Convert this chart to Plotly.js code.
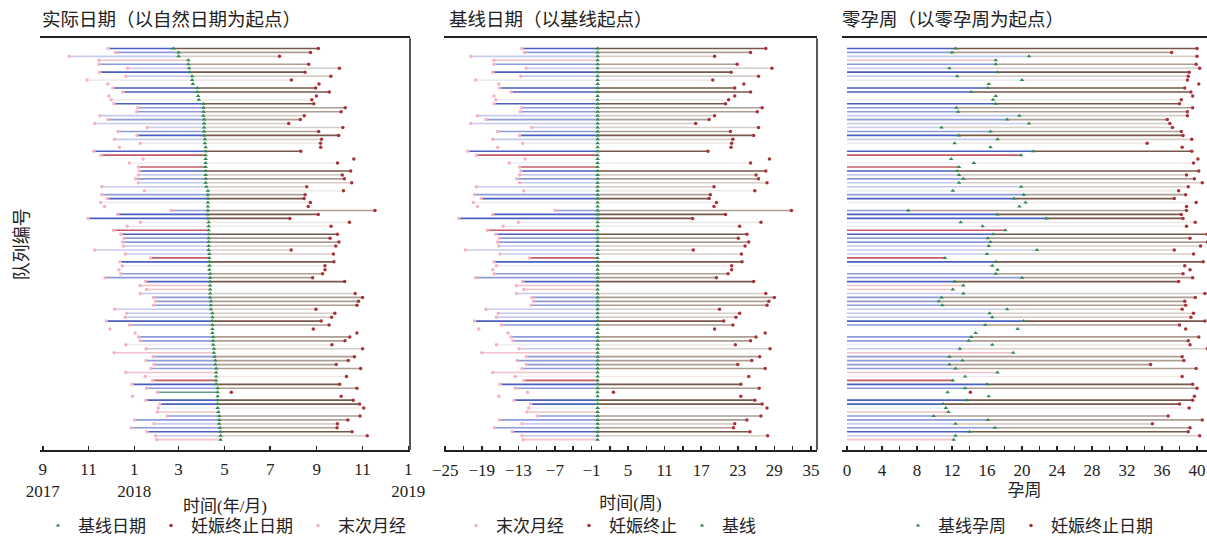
<!DOCTYPE html>
<html>
<head>
<meta charset="utf-8">
<script src="https://cdn.plot.ly/plotly-3.0.1.min.js"></script>
<style>
html,body{margin:0;padding:0;background:#fff;}
#chart{width:1207px;height:544px;}
</style>
</head>
<body>
<div id="chart"></div>
<script>
// ---------------- DATA ----------------
// Baseline date per cohort member: days after 2018-01-01 (rows sorted by baseline date)
const baselineDays = [
  52, 59, 59, 72, 72, 73, 74, 77, 77, 78,
  84, 84, 85, 86, 92, 92, 92, 92, 93, 93,
  93, 93, 93, 94, 94, 95, 95, 95, 95, 95,
  95, 95, 95, 95, 95, 96, 98, 98, 98, 98,
  98, 98, 98, 98, 99, 99, 99, 99, 99, 99,
  99, 99, 100, 100, 100, 100, 100, 101, 101, 101,
  101, 101, 101, 101, 102, 102, 102, 104, 104, 104,
  104, 104, 104, 105, 105, 105, 106, 106, 107, 108,
  108, 109, 109, 109, 109, 109, 111, 111, 111, 111,
  111, 111, 112, 113, 113, 113, 114, 115, 115, 115
];
// Last menstrual period relative to baseline (weeks, negative)
const lmpWeeks = [
  -12.4, -12.0, -20.8, -17.0, -17.0, -11.7, -17.2, -12.6, -20.0, -16.2,
  -16.1, -14.2, -17.0, -16.7, -17.0, -12.5, -12.7, -19.7, -18.3, -20.8,
  -10.8, -16.4, -12.8, -17.2, -12.3, -16.4, -21.3, -19.9, -11.9, -14.5,
  -12.8, -12.6, -12.8, -13.3, -12.8, -19.9, -12.1, -20.2, -19.1, -20.4,
  -19.7, -7.0, -17.2, -22.8, -13.0, -15.5, -18.1, -16.7, -16.1, -16.4,
  -16.2, -21.7, -16.0, -11.2, -17.0, -16.6, -17.2, -17.0, -20.0, -12.3,
  -13.3, -12.1, -13.3, -10.8, -10.5, -10.9, -18.3, -16.3, -16.6, -20.2,
  -15.8, -19.5, -14.7, -14.2, -13.9, -16.6, -12.9, -19.0, -11.7, -13.2,
  -11.7, -12.4, -17.2, -13.5, -12.1, -16.0, -13.5, -11.5, -16.2, -13.7,
  -11.0, -11.3, -11.6, -9.9, -16.1, -12.4, -16.9, -14.0, -12.4, -12.2
];
// End of pregnancy relative to baseline (weeks); null = no end recorded
const endWeeks = [
  27.6, 25.1, 19.2, null, 22.9, 28.6, 21.9, 26.4, 18.9, 24.0,
  22.5, 25.1, 22.5, 21.5, 21.0, 27.0, 26.2, 19.2, 18.3, 16.1,
  26.4, 21.8, 25.6, 22.2, 22.0, 21.9, 18.1, null, 28.2, 25.1,
  null, 27.6, 26.0, 26.4, 27.8, 19.1, 25.8, 18.5, 18.3, 19.5,
  19.1, 31.8, 21.0, 15.6, 26.8, 23.3, null, 24.5, 23.1, 24.8,
  24.2, 15.7, 23.6, null, 23.7, 22.0, 22.0, 21.4, 19.5, 25.6,
  null, null, 27.6, 29.0, 28.1, 27.8, 20.0, 23.3, 22.7, 20.7,
  22.2, 19.2, 27.5, 26.0, 25.1, 22.6, 28.3, null, 26.6, 25.3,
  23.0, 27.5, null, 24.8, null, 23.5, 26.5, 2.6, 23.5, 25.8,
  27.0, 27.8, null, 26.8, 24.5, 22.5, 22.3, 25.0, 27.9, null
];
// Line shade group per row
const shadeGroup = [
  'A','B','C','P','B','C','A','C','D','N',
  'A','A','N','D','A','B','B','C','B','C',
  'C','B','A','C','D','N','A','R','N','D',
  'R','A','C','B','C','C','D','B','A','D',
  'N','B','A','A','D','D','R','A','B','B',
  'C','C','C','R','A','D','N','B','B','A',
  'P','P','C','B','B','B','C','C','C','A',
  'B','N','N','B','B','D','C','P','B','B',
  'B','B','P','D','R','A','B','G','N','A',
  'A','D','P','B','B','C','B','A','C','P'
];

const xTickVals1 = ['2017-09-01','2017-11-01','2018-01-01','2018-03-01','2018-05-01','2018-07-01','2018-09-01','2018-11-01','2019-01-01'];
const xTickText1 = ['9<br>2017','11','1<br>2018','3','5','7','9','11','1<br>2019'];

// ---------------- STYLES ----------------
const preColor  = {A:'#4a5fbf', B:'#8e9bd9', C:'#c6cbee', D:'#ececf5', R:'#c45c68', P:'#f2c2cb', G:'#5f9e8c'};
const postColor = {A:'#77574a', B:'#ad9d92', C:'#d8cec8', D:'#eeeae8'};
const cLmp = '#f5b3c0', cBase = '#2f8a4a', cEnd = '#a8323a';
const FONT = 'Liberation Serif, "Noto Sans CJK SC", serif';

const DAY = 86400000;
const origin = Date.UTC(2018, 0, 1);
function toDate(ms){ return new Date(ms).toISOString().slice(0,19).replace('T',' '); }

const n = baselineDays.length;
const rows = [];
for (let i = 0; i < n; i++) rows.push(i + 1);

// positions per panel
function coords(panel, i){
  const l = lmpWeeks[i], e = endWeeks[i];
  if (panel === 1){
    const b = origin + baselineDays[i]*DAY;
    return {lmp: toDate(b + l*7*DAY), base: toDate(b), end: e===null?null:toDate(b + e*7*DAY)};
  } else if (panel === 2){
    return {lmp: l, base: 0, end: e};
  } else {
    return {lmp: 0, base: -l, end: e===null?null:(e - l)};
  }
}

const traces = [];
function axisNames(p){ return {xaxis: p===1?'x':'x'+p, yaxis: p===1?'y':'y'+p}; }

for (const p of [1,2,3]){
  const ax = axisNames(p);
  // line segments grouped by shade
  for (const g of ['D','C','B','A','P','R','G']){
    const xs = [], ys = [];
    for (let i = 0; i < n; i++){
      if (shadeGroup[i] !== g) continue;
      if (g === 'G' && p !== 1) continue;
      const c = coords(p, i);
      xs.push(c.lmp, c.base, null); ys.push(rows[i], rows[i], null);
    }
    if (xs.length) traces.push({type:'scatter', mode:'lines', x:xs, y:ys, ...ax,
      line:{color:preColor[g], width:1.6}, hoverinfo:'skip', showlegend:false});
  }
  for (const g of ['D','C','B','A']){
    const xs = [], ys = [];
    for (let i = 0; i < n; i++){
      if (shadeGroup[i] !== g || endWeeks[i] === null) continue;
      const c = coords(p, i);
      xs.push(c.base, c.end, null); ys.push(rows[i], rows[i], null);
    }
    if (xs.length) traces.push({type:'scatter', mode:'lines', x:xs, y:ys, ...ax,
      line:{color:postColor[g], width:1.6}, hoverinfo:'skip', showlegend:false});
  }
  // markers
  const lmpT = {type:'scatter', mode:'markers', ...ax, x:[], y:[],
    marker:{color:cLmp, size:3.5, symbol:'circle'}};
  const baseT = {type:'scatter', mode:'markers', ...ax, x:[], y:[],
    marker:{color:cBase, size:4, symbol:'triangle-up'}};
  const endT = {type:'scatter', mode:'markers', ...ax, x:[], y:[],
    marker:{color:cEnd, size:3.5, symbol:'circle'}};
  for (let i = 0; i < n; i++){
    const c = coords(p, i);
    lmpT.x.push(c.lmp); lmpT.y.push(rows[i]);
    baseT.x.push(c.base); baseT.y.push(rows[i]);
    if (c.end !== null){ endT.x.push(c.end); endT.y.push(rows[i]); }
  }
  const lg = p===1 ? 'legend' : 'legend'+p;
  lmpT.legend = baseT.legend = endT.legend = lg;
  if (p === 1){
    baseT.name = '基线日期'; endT.name = '妊娠终止日期'; lmpT.name = '末次月经';
    traces.push(baseT, endT, lmpT);
  } else if (p === 2){
    lmpT.name = '末次月经'; endT.name = '妊娠终止'; baseT.name = '基线';
    traces.push(lmpT, endT, baseT);
  } else {
    baseT.name = '基线孕周'; endT.name = '妊娠终止日期';
    traces.push(baseT, endT);
  }
}

// ---------------- LAYOUT ----------------
const W = 1207, H = 544;
const px = v => v / W;
const yDom = [(H-457.5)/H, (H-39)/H];
const yRange = [102.6, -1.56];

const xCommon = {
  showline:true, linecolor:'#222', linewidth:2, mirror:true,
  ticks:'inside', ticklen:4, tickwidth:1.5, tickcolor:'#222',
  showgrid:false, zeroline:false, ticklabelstandoff:4,
  tickfont:{size:17, color:'#222', family:FONT},
  title:{font:{size:17, color:'#222', family:FONT}}
};
const yCommon = {range:yRange, showline:false, showticklabels:false, ticks:'',
  showgrid:false, zeroline:false, domain:yDom};

const legendCommon = {orientation:'h', yanchor:'middle', y:(H-535)/H, xanchor:'left',
  font:{size:17, color:'#222', family:FONT}, itemwidth:30, bgcolor:'rgba(0,0,0,0)', tracegroupgap:0};

const layout = {
  width:W, height:H,
  margin:{l:0, r:0, t:0, b:0},
  paper_bgcolor:'#fff', plot_bgcolor:'#fff',
  font:{family:FONT, color:'#222'},
  xaxis:{...xCommon, domain:[px(40), px(410)], anchor:'y', type:'date',
    ticklabelstandoff:3,
    range:['2017-08-28 08:00','2019-01-03 06:00'],
    tickvals:xTickVals1, ticktext:xTickText1,
    title:{...xCommon.title, text:'时间(年/月)', standoff:0}},
  xaxis2:{...xCommon, domain:[px(444), px(817)], anchor:'y2',
    range:[-25.2, 36.0], tick0:-25, dtick:6,
    minor:{dtick:3, tick0:-25, ticks:'inside', ticklen:4, tickwidth:1.5, tickcolor:'#222'},
    title:{...xCommon.title, text:'时间(周)', standoff:18}},
  xaxis3:{...xCommon, domain:[px(842), 1], anchor:'y3',
    range:[-0.57, 41.14], tick0:0, dtick:4,
    minor:{dtick:2, tick0:0, ticks:'inside', ticklen:4, tickwidth:1.5, tickcolor:'#222'},
    title:{...xCommon.title, text:'孕周', standoff:5}},
  yaxis:{...yCommon, anchor:'x',
    title:{text:'队列编号', font:{size:18, color:'#222', family:FONT}, standoff:5}},
  yaxis2:{...yCommon, anchor:'x2'},
  yaxis3:{...yCommon, anchor:'x3'},
  legend:{...legendCommon, x:px(38)},
  legend2:{...legendCommon, x:px(456)},
  legend3:{...legendCommon, x:px(898)},
  shapes:[
    {type:'line', xref:'x domain', yref:'y domain', x0:1, x1:1, y0:0, y1:1, line:{color:'#222', width:1.5}},
    {type:'line', xref:'x2 domain', yref:'y2 domain', x0:1, x1:1, y0:0, y1:1, line:{color:'#222', width:1.5}}
  ],
  annotations:[
    {text:'实际日期（以自然日期为起点）', xref:'paper', yref:'paper', x:px(40), y:(H-20)/H,
      xanchor:'left', yanchor:'middle', showarrow:false, font:{size:18.5, color:'#222', family:FONT}},
    {text:'基线日期（以基线起点）', xref:'paper', yref:'paper', x:px(447), y:(H-20)/H,
      xanchor:'left', yanchor:'middle', showarrow:false, font:{size:18.5, color:'#222', family:FONT}},
    {text:'零孕周（以零孕周为起点）', xref:'paper', yref:'paper', x:px(840), y:(H-20)/H,
      xanchor:'left', yanchor:'middle', showarrow:false, font:{size:18.5, color:'#222', family:FONT}}
  ],
  showlegend:true
};

Plotly.newPlot('chart', traces, layout, {displayModeBar:false, staticPlot:true});
</script>
</body>
</html>
